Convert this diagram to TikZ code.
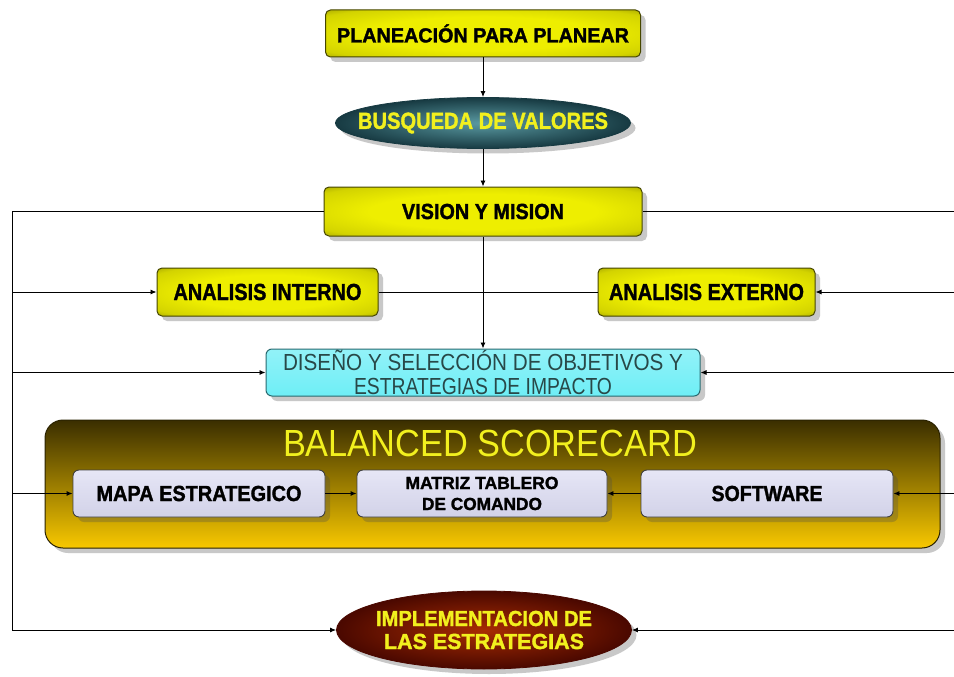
\documentclass[tikz,border=0pt]{standalone}
\usepackage{fontspec}
\setmainfont{Liberation Sans}
\newfontfamily\heavyfont[FakeBold=1.6]{Liberation Sans Bold}
\usepackage{graphicx}
\usetikzlibrary{shapes.geometric,shadows,arrows.meta}

% Set a line of text to a given width and cap height
\newsavebox\fitbox
\newsavebox\capbox
\newcommand\fittext[3]{%
  \sbox\fitbox{#3}\sbox\capbox{H}%
  \pgfmathsetmacro\fitsx{#1/\the\wd\fitbox}%
  \pgfmathsetmacro\fitsy{#2/\the\ht\capbox}%
  \scalebox{\fitsx}[\fitsy]{\usebox\fitbox}}

\definecolor{olivedark}{HTML}{464600}
\definecolor{yelin}{HTML}{EEEE00}
\definecolor{yelout}{HTML}{8E8E00}
\definecolor{tealin}{HTML}{5A9AA2}
\definecolor{tealout}{HTML}{173A42}
\definecolor{txtyellow}{HTML}{F2F01E}
\definecolor{cyanfill}{HTML}{6EEEF6}
\definecolor{cyanedge}{HTML}{2A6A70}
\definecolor{cyantext}{HTML}{284848}
\definecolor{bsctop}{HTML}{3A2E00}
\definecolor{bscmid}{HTML}{C29E00}
\definecolor{bscbot}{HTML}{F8C800}
\definecolor{bscedge}{HTML}{2A2200}
\definecolor{lavtop}{HTML}{E6E6F6}
\definecolor{lavbot}{HTML}{D2D2E8}
\definecolor{redin}{HTML}{A82C02}
\definecolor{redout}{HTML}{4A0800}

% bright centre fading to olive at the rim
\pgfdeclareradialshading{yelglow}{\pgfpoint{0bp}{0bp}}{%
  color(0bp)=(yelin); color(18bp)=(yelin); color(31bp)=(yelin!72!yelout);
  color(40bp)=(yelout); color(100bp)=(yelout)}

\tikzset{
  shad/.style={drop shadow={shadow xshift=5pt,shadow yshift=-5pt,opacity=0.3,fill=black!70}},
  ybox/.style={draw=olivedark, line width=1pt, rounded corners=5pt,
    shading=yelglow, inner sep=0pt, shad, font=\heavyfont\fontsize{20}{24}\selectfont},
  lavbox/.style={draw=black!75, line width=0.9pt, rounded corners=6pt,
    top color=lavtop, bottom color=lavbot, minimum width=252, minimum height=47,
    inner sep=0pt, shad, align=center, font=\heavyfont\fontsize{16}{21}\selectfont},
  oval/.style={ellipse, line width=0.8pt, inner sep=0pt, shad,
    text=txtyellow, align=center, font=\heavyfont\fontsize{20}{23}\selectfont},
  line/.style={draw=black, line width=0.9pt},
  arr/.style={line, -{Latex[length=6pt,width=5pt]}}
}

\begin{document}
\begin{tikzpicture}[x=1pt,y=-1pt]
\useasboundingbox (0,0) rectangle (954,677);
\fill[white] (0,0) rectangle (954,677);
\clip (0,0) rectangle (954,677);

% top chain
\node[ybox, minimum width=315, minimum height=47] (plan) at (483,33.5)
  {\fittext{292}{14}{PLANEACIÓN PARA PLANEAR}};
\node[oval, draw=tealout, inner color=tealin, outer color=tealout,
  minimum width=295, minimum height=51] (busq) at (483,123)
  {\makebox[0pt]{\fittext{250}{16}{BUSQUEDA DE VALORES}}};
\node[ybox, minimum width=318, minimum height=49] (vision) at (483,211.5)
  {\fittext{162}{15}{VISION Y MISION}};

% analysis
\node[ybox, minimum width=221, minimum height=48] (aint) at (267.5,292)
  {\fittext{188}{16}{ANALISIS INTERNO}};
\node[ybox, minimum width=217, minimum height=48] (aext) at (706.5,292)
  {\fittext{195}{16}{ANALISIS EXTERNO}};

% objectives and strategies
\node[draw=cyanedge, line width=1pt, rounded corners=6pt, top color=cyanfill!75!white,
  bottom color=cyanfill, minimum width=434, minimum height=47, inner sep=0pt, shad,
  text=cyantext, align=center, font=\fontsize{20}{24}\selectfont] (dis) at (483,372.5)
  {\fittext{400}{16}{DISEÑO Y SELECCIÓN DE OBJETIVOS Y}\\
   \fittext{258}{16}{ESTRATEGIAS DE IMPACTO}};

% balanced scorecard frame
\node[draw=bscedge, line width=1pt, rounded corners=18pt,
  top color=bsctop, middle color=bscmid, bottom color=bscbot,
  minimum width=895, minimum height=128, shad] (bsc) at (492.5,484) {};
\node[text=txtyellow, inner sep=0pt, font=\fontsize{30}{34}\selectfont] (bsct) at (490,443.5)
  {\fittext{414}{26}{BALANCED SCORECARD}};

\node[lavbox] (mapa) at (199,493.5) {\fittext{205}{15}{MAPA ESTRATEGICO}};
\node[lavbox, minimum width=250] (matriz) at (482,493.5)
  {\fittext{153}{12}{MATRIZ TABLERO}\\\fittext{120}{12}{DE COMANDO}};
\node[lavbox] (soft) at (767,493.5) {\fittext{111}{15}{SOFTWARE}};

% implementation
\node[oval, draw=redout, inner color=redin, outer color=redout,
  minimum width=295, minimum height=78] (impl) at (484,630)
  {\makebox[0pt]{\fittext{216}{15}{IMPLEMENTACION DE}}\\
   \makebox[0pt]{\fittext{200}{15}{LAS ESTRATEGIAS}}};

% side trunks
\coordinate (lt) at (12,211.5);
\coordinate (lb) at (12,630);
\coordinate (rt) at (960,211.5);
\coordinate (rb) at (960,630);

% connectors
\draw[arr] (plan) -- (busq);
\draw[arr] (busq) -- (vision);
\draw[arr] (vision) -- (dis);
\draw[line] (aint.east) -- (aext.west);

\draw[line] (vision.west) -- (lt) -- (lb);
\draw[line] (vision.east) -- (rt) -- (rb);

\draw[arr] (lt |- aint.west) -- (aint.west);
\draw[arr] (lt |- dis.west) -- (dis.west);
\draw[arr] (lt |- mapa.west) -- (mapa.west);
\draw[arr] (lb) -- (impl.west);

\draw[arr] (rt |- aext.east) -- (aext.east);
\draw[arr] (rt |- dis.east) -- (dis.east);
\draw[arr] (rt |- soft.east) -- (soft.east);
\draw[arr] (rb) -- (impl.east);

\draw[arr] (mapa) -- (matriz);
\draw[arr] (soft) -- (matriz);
\end{tikzpicture}
\end{document}
